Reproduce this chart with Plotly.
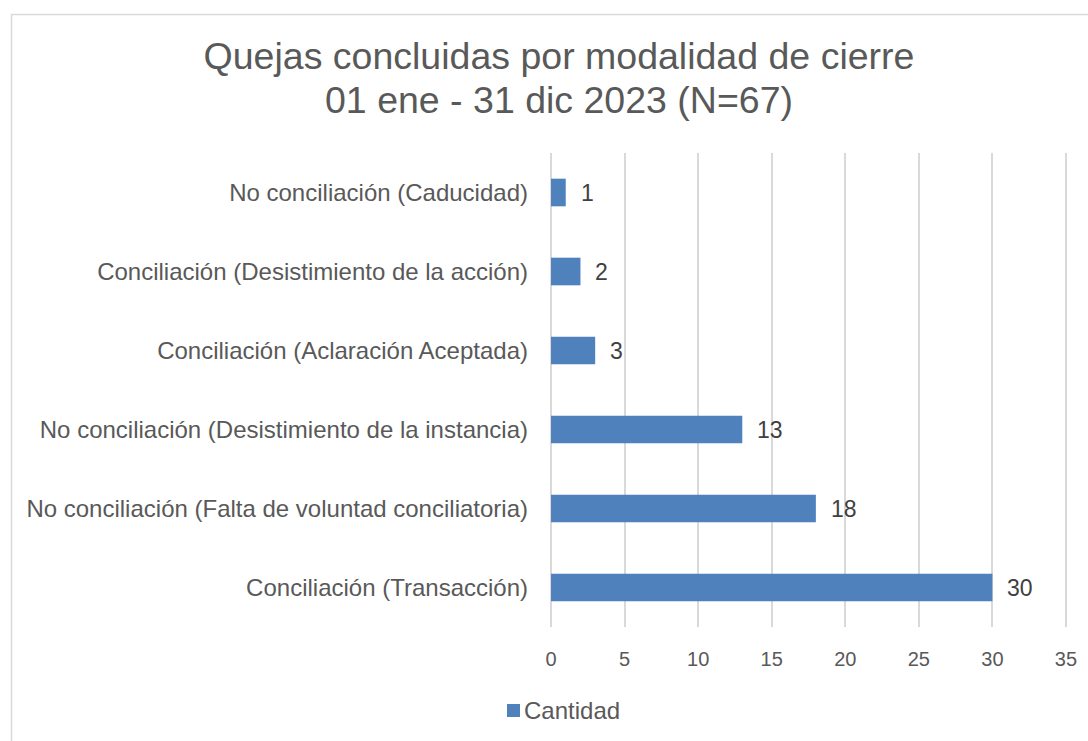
import plotly.graph_objects as go

# Categories listed bottom-to-top as they appear on the vertical axis
categorias = [
    "Conciliación (Transacción)",
    "No conciliación (Falta de voluntad conciliatoria)",
    "No conciliación (Desistimiento de la instancia)",
    "Conciliación (Aclaración Aceptada)",
    "Conciliación (Desistimiento de la acción)",
    "No conciliación (Caducidad)",
]
cantidad = [30, 18, 13, 3, 2, 1]
x_ticks = [0, 5, 10, 15, 20, 25, 30, 35]

titulo_1 = "Quejas concluidas por modalidad de cierre"
titulo_2 = "01 ene - 31 dic 2023 (N=67)"
serie = "Cantidad"

W, H = 1088, 741
L, R, T, B = 550, 21, 153, 114
PW, PH = W - L - R, H - T - B

BAR = "#4f81bd"
TXT = "#595959"
GRID = "#d9d9d9"
FONT = "Liberation Sans, Arial, sans-serif"


def px_x(p):
    return (p - L) / PW


def px_y(p):
    return (H - B - p) / PH


fig = go.Figure()
fig.add_trace(go.Bar(
    x=cantidad,
    y=categorias,
    orientation="h",
    name=serie,
    marker=dict(color=BAR, line=dict(width=0)),
    width=0.35,
    showlegend=False,
    hoverinfo="x+y",
))

# value labels next to each bar
for c, v in zip(categorias, cantidad):
    fig.add_annotation(
        x=v, y=c, xref="x", yref="y",
        text=str(v), showarrow=False,
        xanchor="left", yanchor="middle", xshift=13,
        font=dict(family=FONT, size=23, color="#404040"),
    )

# second title line
fig.add_annotation(
    x=px_x(559), y=px_y(100), xref="paper", yref="paper",
    text=titulo_2, showarrow=False, xanchor="center", yanchor="middle",
    font=dict(family=FONT, size=37.5, color=TXT),
)

# legend entry
fig.add_shape(
    type="rect", xref="paper", yref="paper",
    x0=px_x(507), x1=px_x(520), y0=px_y(717), y1=px_y(704),
    fillcolor=BAR, line=dict(width=0),
)
fig.add_annotation(
    x=px_x(522), y=px_y(710), xref="paper", yref="paper",
    text=serie, showarrow=False, xanchor="left", yanchor="middle",
    font=dict(family=FONT, size=24, color=TXT),
)

# chart-area frame
fig.add_shape(
    type="rect", xref="paper", yref="paper",
    x0=px_x(11.5), x1=px_x(1120), y0=px_y(760), y1=px_y(14.5),
    line=dict(color=GRID, width=1.5), fillcolor="rgba(0,0,0,0)",
    layer="below",
)

fig.update_layout(
    width=W, height=H,
    margin=dict(l=L, r=R, t=T, b=B, autoexpand=False),
    paper_bgcolor="white", plot_bgcolor="white",
    font=dict(family=FONT, color=TXT),
    title=dict(
        text=titulo_1, x=559 / W, xanchor="center",
        y=1 - 56 / H, yanchor="middle", yref="container",
        font=dict(family=FONT, size=37.5, color=TXT),
    ),
    xaxis=dict(
        range=[-0.07, 35.07], tickvals=x_ticks, showgrid=True,
        gridcolor=GRID, gridwidth=1.5, zeroline=False, showline=False,
        ticks="", tickfont=dict(size=20, color=TXT),
        ticklabelstandoff=18, fixedrange=True,
    ),
    yaxis=dict(
        categoryorder="array", categoryarray=categorias,
        showgrid=False, zeroline=False, showline=False, ticks="",
        tickfont=dict(size=24, color=TXT), ticklabelstandoff=21,
        fixedrange=True,
    ),
)

fig.write_html("out.html")
